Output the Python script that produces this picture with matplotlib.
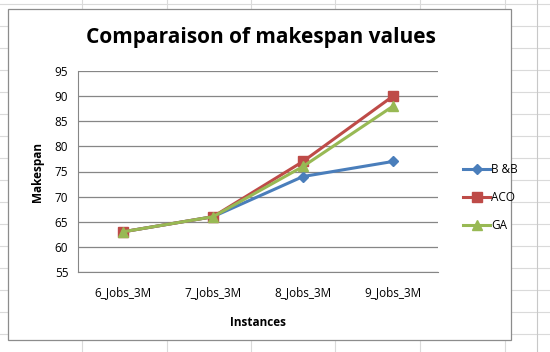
import matplotlib
matplotlib.use("Agg")
import matplotlib.pyplot as plt
from matplotlib.patches import Rectangle
from matplotlib.lines import Line2D

# data
instances = ["6_Jobs_3M", "7_Jobs_3M", "8_Jobs_3M", "9_Jobs_3M"]
bnb = [63, 66, 74, 77]
aco = [63, 66, 77, 90]
ga = [63, 66, 76, 88]
yticks = [55, 60, 65, 70, 75, 80, 85, 90, 95]

plt.rcParams['font.family'] = ['Open Sans', 'DejaVu Sans']

W, H = 550, 352
fig = plt.figure(figsize=(W / 100, H / 100), dpi=100)

# faint spreadsheet cells behind the chart
for xc in [82, 167, 251, 335, 420, 505]:
    fig.add_artist(Line2D([xc / W, xc / W], [0, 1], color='#dadada', lw=0.8, zorder=0))
for yc in range(4, H, 22):
    fig.add_artist(Line2D([0, 1], [1 - yc / H, 1 - yc / H], color='#dadada', lw=0.8, zorder=0))
fig.add_artist(Line2D([537 / W, 537 / W], [0, 1], color='#c8c8c8', lw=0.8, zorder=0))

# chart area box
fig.add_artist(Rectangle((8 / W, 1 - 340 / H), (511 - 8) / W, (340 - 9) / H,
                         facecolor='white', edgecolor='#8c8c8c', lw=0.9, zorder=1))

ax = fig.add_axes([78 / W, 1 - 272 / H, (438 - 78) / W, (272 - 71) / H])
ax.set_zorder(2)
ax.patch.set_alpha(0)

x = range(len(instances))
ax.plot(x, bnb, color='#4a7ebb', lw=2.2, marker='D', ms=5.5, label='B &B', zorder=3)
ax.plot(x, aco, color='#be4b48', lw=2.2, marker='s', ms=6.5, label='ACO', zorder=4)
ax.plot(x, ga, color='#98b954', lw=2.2, marker='^', ms=7.5, label='GA', zorder=5)

ax.set_xlim(-0.5, len(instances) - 0.5)
ax.set_ylim(55, 95)
ax.set_yticks(yticks)
ax.set_xticks(list(x))
ax.set_xticklabels(instances)
ax.grid(axis='y', color='#868686', lw=0.9)
ax.set_axisbelow(True)
for s in ['top', 'right']:
    ax.spines[s].set_visible(False)
ax.spines['left'].set_color('#868686')
ax.spines['bottom'].set_color('#868686')
ax.tick_params(axis='both', length=0, labelsize=8.5, pad=7)
ax.tick_params(axis='x', pad=10)

ax.set_xlabel('Instances', fontsize=8.5, fontweight='bold', labelpad=12)
ax.set_ylabel('Makespan', fontsize=8.5, fontweight='bold', labelpad=8)

fig.text(261 / W, 1 - 38 / H, 'Comparaison of makespan values', ha='center', va='center',
         fontsize=15, fontweight='bold', zorder=3)

ax.legend(loc='center left', bbox_to_anchor=(1.04, 0.37), frameon=False,
          fontsize=8.5, handlelength=2.3, handletextpad=0.1, labelspacing=1.25)

fig.savefig('out.png', dpi=100)
